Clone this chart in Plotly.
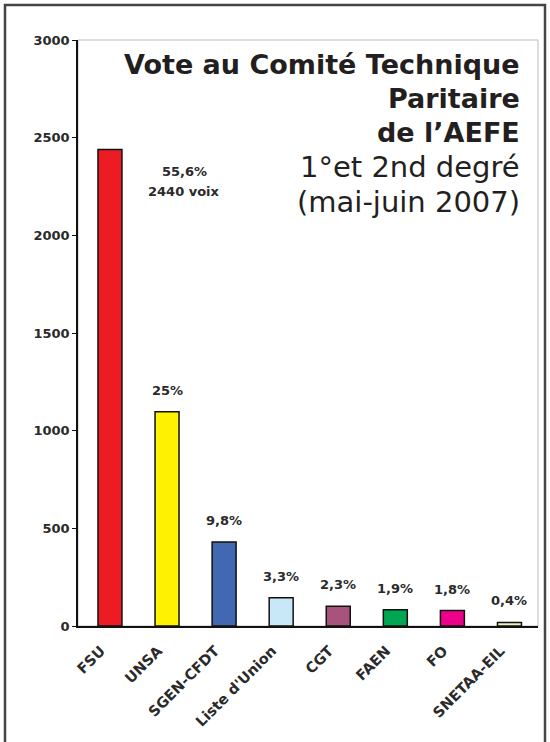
import plotly.graph_objects as go

categories = ["FSU", "UNSA", "SGEN-CFDT", "Liste d'Union", "CGT", "FAEN", "FO", "SNETAA-EIL"]
votes = [2440, 1097, 430, 145, 101, 83, 79, 18]
pct_labels = ["55,6%", "25%", "9,8%", "3,3%", "2,3%", "1,9%", "1,8%", "0,4%"]
colors = ["#ED1C24", "#FFF200", "#4169B1", "#C8E8F7", "#A8537C", "#00A651", "#EC008C", "#F3F0C2"]
y_ticks = [0, 500, 1000, 1500, 2000, 2500, 3000]
title_lines = [
    ("Vote au Comité Technique", True),
    ("Paritaire", True),
    ("de l’AEFE", True),
    ("1°et 2nd degré", False),
    ("(mai-juin 2007)", False),
]

W, H = 550, 742
L, R, T, B = 78, 12, 40, 116
PW = W - L - R
PH = H - T - B


def px(x):
    return (x - L) / PW


def py(y):
    return (H - B - y) / PH


fig = go.Figure()
fig.add_trace(go.Bar(
    x=list(range(len(categories))),
    y=votes,
    marker=dict(color=colors, line=dict(color="#111111", width=1.5)),
    width=0.42,
    hoverinfo="skip",
))

small_font = dict(family="DejaVu Sans", size=13, color="#2a2a2a", weight="bold")

annotations = []
for i, (v, t) in enumerate(zip(votes, pct_labels)):
    if i == 0:
        continue
    annotations.append(dict(x=i, y=v, xref="x", yref="y", text=t, showarrow=False,
                            yanchor="bottom", yshift=12, font=small_font))
annotations.append(dict(x=px(184), y=py(171), xref="paper", yref="paper",
                        text=pct_labels[0], showarrow=False, font=small_font,
                        xanchor="center", yanchor="middle"))
annotations.append(dict(x=px(184), y=py(192), xref="paper", yref="paper",
                        text=str(votes[0]) + " voix", showarrow=False, font=small_font,
                        xanchor="center", yanchor="middle"))

title_y = [65, 98, 132, 167, 202]
for (txt, bold), ypix in zip(title_lines, title_y):
    annotations.append(dict(
        x=px(522), y=py(ypix), xref="paper", yref="paper",
        text=("<b>%s</b>" % txt) if bold else txt, showarrow=False,
        xanchor="right", yanchor="middle",
        font=dict(family="DejaVu Sans", size=27 if bold else 29, color="#231F20"),
    ))

shapes = [
    dict(type="rect", xref="paper", yref="paper", x0=0, y0=0, x1=1, y1=1,
         line=dict(color="#BBBBBB", width=1), layer="below"),
    dict(type="rect", xref="paper", yref="paper",
         x0=px(5), x1=px(545), y0=py(5), y1=py(800),
         line=dict(color="#444444", width=2.5)),
]

fig.update_layout(
    width=W, height=H,
    margin=dict(l=L, r=R, t=T, b=B),
    paper_bgcolor="white", plot_bgcolor="white",
    showlegend=False, bargap=0.58,
    annotations=annotations, shapes=shapes,
    xaxis=dict(
        range=[-0.56, 7.5], tickmode="array",
        tickvals=list(range(len(categories))), ticktext=categories,
        tickangle=-45, showgrid=False, zeroline=False,
        showline=True, linecolor="#111111", linewidth=1.5,
        ticks="", ticklabelshift=-9, ticklabelstandoff=9,
        tickfont=dict(family="DejaVu Sans", size=14.5, color="#2a2a2a", weight="bold"),
    ),
    yaxis=dict(
        range=[0, 3000], tickmode="array", tickvals=y_ticks,
        ticktext=[str(t) for t in y_ticks],
        showgrid=False, zeroline=False,
        showline=True, linecolor="#111111", linewidth=1.5,
        ticks="outside", ticklen=4, tickcolor="#111111",
        tickfont=dict(family="DejaVu Sans", size=13, color="#2a2a2a", weight="bold"),
    ),
)

fig.write_html("out.html", config={"displayModeBar": False},
               post_script="document.body.style.margin='0px';")
